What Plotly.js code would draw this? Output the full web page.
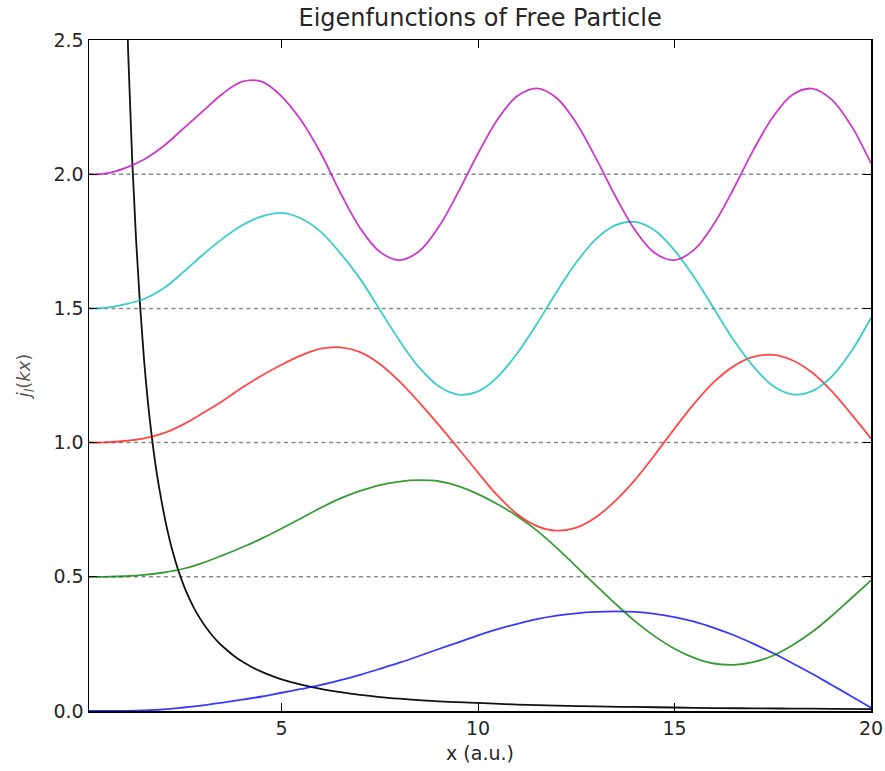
<!DOCTYPE html>
<html>
<head>
<meta charset="utf-8">
<script src="https://cdn.plot.ly/plotly-3.0.1.min.js"></script>
<style>html,body{margin:0;padding:0;background:#fff;}#chart{width:885px;height:771px;}</style>
</head>
<body>
<div id="chart"></div>
<script>
// Offsets (dashed reference levels)
const levels = [0.5, 1.0, 1.5, 2.0];

// Common x grid for the coloured curves (read every 0.5 a.u.)
const gridX = [0.1, 0.5, 1.0, 1.5, 2.0, 2.5, 3.0, 3.5, 4.0, 4.5, 5.0, 5.5, 6.0, 6.5, 7.0, 7.5, 8.0, 8.5, 9.0, 9.5, 10.0,
               10.5, 11.0, 11.5, 12.0, 12.5, 13.0, 13.5, 14.0, 14.5, 15.0, 15.5, 16.0, 16.5, 17.0, 17.5, 18.0, 18.5, 19.0, 19.5, 20.0];

// Blue curve (offset 0.0)
const blueY = [0.0, 0.0, 0.0005, 0.002, 0.006, 0.013, 0.021, 0.031, 0.042, 0.054, 0.068, 0.082, 0.097, 0.115, 0.135, 0.157, 0.18, 0.205, 0.231, 0.256, 0.282,
               0.305, 0.325, 0.342, 0.355, 0.364, 0.369, 0.371, 0.369, 0.362, 0.35, 0.333, 0.31, 0.283, 0.251, 0.216, 0.178, 0.139, 0.097, 0.055, 0.012];

// Green curve (offset 0.5)
const greenY = [0.5, 0.5, 0.502, 0.507, 0.516, 0.53, 0.552, 0.58, 0.61, 0.643, 0.68, 0.718, 0.757, 0.792, 0.82, 0.842, 0.855, 0.86, 0.856, 0.838, 0.808,
                0.77, 0.726, 0.672, 0.608, 0.538, 0.468, 0.399, 0.334, 0.278, 0.232, 0.198, 0.177, 0.172, 0.182, 0.206, 0.245, 0.294, 0.354, 0.42, 0.487];

// Red curve (offset 1.0)
const redY = [1.0, 1.001, 1.006, 1.016, 1.035, 1.068, 1.11, 1.155, 1.205, 1.25, 1.29, 1.325, 1.35, 1.355, 1.337, 1.293, 1.228, 1.15, 1.066, 0.978, 0.888,
              0.802, 0.733, 0.689, 0.672, 0.683, 0.722, 0.784, 0.862, 0.955, 1.052, 1.145, 1.225, 1.284, 1.319, 1.327, 1.307, 1.261, 1.192, 1.106, 1.015];

// Cyan curve (offset 1.5)
const cyanY = [1.5, 1.502, 1.515, 1.535, 1.575, 1.635, 1.7, 1.76, 1.81, 1.843, 1.856, 1.835, 1.785, 1.705, 1.61, 1.495, 1.38, 1.28, 1.21, 1.179, 1.191,
               1.245, 1.333, 1.443, 1.561, 1.671, 1.758, 1.81, 1.822, 1.79, 1.716, 1.616, 1.5, 1.383, 1.285, 1.212, 1.18, 1.192, 1.246, 1.34, 1.465];

// Magenta curve (offset 2.0)
const magY = [2.0, 2.002, 2.022, 2.055, 2.105, 2.17, 2.235, 2.3, 2.345, 2.345, 2.29, 2.2, 2.078, 1.93, 1.799, 1.711, 1.68, 1.713, 1.804, 1.934, 2.077,
              2.205, 2.291, 2.32, 2.284, 2.191, 2.06, 1.917, 1.791, 1.706, 1.68, 1.719, 1.814, 1.945, 2.088, 2.212, 2.296, 2.319, 2.278, 2.18, 2.04];

// Black curve
const blackX = [1.0, 1.1, 1.2, 1.3, 1.4, 1.5, 1.6, 1.7, 1.8, 1.9, 2.0, 2.1, 2.2, 2.3, 2.4, 2.5, 2.6, 2.7, 2.8, 2.9, 3.0, 3.2, 3.4, 3.6, 3.8, 4.0,
                4.25, 4.5, 4.75, 5.0, 5.5, 6.0, 6.5, 7.0, 7.5, 8.0, 9.0, 10, 11, 12, 13, 14, 15, 16, 17, 18, 19, 20];
const blackY = [2.95, 2.44, 2.05, 1.75, 1.51, 1.31, 1.15, 1.02, 0.91, 0.82, 0.74, 0.67, 0.61, 0.558, 0.512, 0.472, 0.436, 0.405, 0.376, 0.351, 0.328,
                0.288, 0.255, 0.228, 0.204, 0.184, 0.163, 0.146, 0.131, 0.118, 0.098, 0.082, 0.07, 0.06, 0.052, 0.046,
                0.036, 0.03, 0.024, 0.02, 0.017, 0.015, 0.013, 0.011, 0.01, 0.009, 0.008, 0.007];

const xTicks = [5, 10, 15, 20];
const yTicks = [0.0, 0.5, 1.0, 1.5, 2.0, 2.5];

const xMin = 0.1, xMax = 20;

const traces = [];
levels.forEach(function (lv) {
  traces.push({x: [xMin, xMax], y: [lv, lv], mode: 'lines', hoverinfo: 'skip',
    line: {color: '#8a8a8a', width: 1.5, dash: '4px,3.5px'}});
});
function curve(x, y, color, shape) {
  return {x: x, y: y, mode: 'lines', line: {color: color, width: 1.8, shape: shape || 'spline', smoothing: 1.0}};
}
traces.push(curve(blackX, blackY, '#111111', 'spline'));
traces.push(curve(gridX, blueY, 'rgba(0,0,255,0.78)'));
traces.push(curve(gridX, greenY, 'rgba(0,128,0,0.78)'));
traces.push(curve(gridX, redY, 'rgba(255,0,0,0.72)'));
traces.push(curve(gridX, cyanY, 'rgba(0,191,191,0.78)'));
traces.push(curve(gridX, magY, 'rgba(191,0,191,0.78)'));

const FAM = 'DejaVu Sans, sans-serif';

const layout = {
  width: 885, height: 771,
  margin: {l: 89, r: 14, t: 40, b: 60, pad: 0},
  paper_bgcolor: '#ffffff', plot_bgcolor: '#ffffff',
  showlegend: false,
  font: {family: FAM, size: 19, color: '#262626'},
  title: {text: 'Eigenfunctions of Free Particle', font: {family: FAM, size: 24, color: '#262626'},
          x: 0.5425, xanchor: 'center', y: 0.988, yanchor: 'top'},
  xaxis: {
    range: [xMin, xMax], tickvals: xTicks, ticktext: xTicks.map(String),
    ticks: 'inside', ticklen: 8, tickwidth: 1, tickcolor: '#000',
    showline: true, linecolor: '#000', linewidth: 1.5, mirror: 'ticks',
    showgrid: false, zeroline: false,
    tickfont: {family: FAM, size: 19, color: '#262626'},
    title: {text: 'x (a.u.)', font: {family: FAM, size: 19, color: '#262626'}, standoff: 8}
  },
  yaxis: {
    range: [0, 2.5], tickvals: yTicks, ticktext: yTicks.map(function (v) { return v.toFixed(1); }),
    ticks: 'inside', ticklen: 8, tickwidth: 1, tickcolor: '#000',
    showline: true, linecolor: '#000', linewidth: 1.5, mirror: 'ticks',
    showgrid: false, zeroline: false,
    tickfont: {family: FAM, size: 19, color: '#262626'},
    title: {text: '<i>j</i><sub><i>l</i></sub>(<i>kx</i>)', font: {family: FAM, size: 18, color: '#555'}, standoff: 18}
  }
};

Plotly.newPlot('chart', traces, layout, {staticPlot: true, displayModeBar: false});
</script>
</body>
</html>
